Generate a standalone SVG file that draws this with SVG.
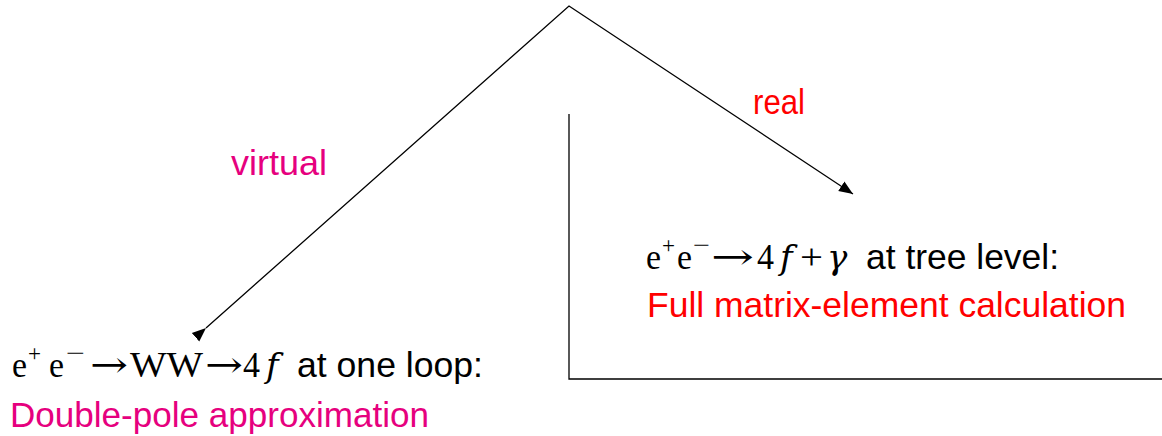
<svg xmlns="http://www.w3.org/2000/svg" width="1162" height="436" viewBox="0 0 1162 436">
<style>
.ln{stroke:#000;stroke-width:1.3;fill:none}
.m{font-family:"Liberation Serif","DejaVu Serif",serif;fill:#000;font-size:35px}
.ar{font-family:"DejaVu Serif","Liberation Serif",serif;fill:#000;font-size:36px}
.it{font-family:"DejaVu Serif","Liberation Serif",serif;font-style:italic;fill:#000;font-size:34px}
.sup{font-size:24px}
.s{font-family:"Liberation Sans","DejaVu Sans",sans-serif;font-size:35px}
.k{fill:#000}
.pink{fill:#E6007E}
.red{fill:#FF0000}
</style>
<defs>
<marker id="ah" viewBox="0 0 10 10" refX="10" refY="5" markerWidth="14" markerHeight="14" markerUnits="userSpaceOnUse" orient="auto">
<path d="M0,1 L10,5 L0,9 Z" fill="#000"/>
</marker>
</defs>
<g id="connectors">
<polyline class="ln" points="206,328 569,6 853,194" marker-start="url(#ah)" marker-end="url(#ah)"/>
<polyline class="ln" points="569,114 569,379 1162,379"/>
</g>
<g id="label-virtual"><text class="s pink" x="231" y="175" textLength="96" lengthAdjust="spacingAndGlyphs">virtual</text></g>
<g id="label-real"><text class="s red" x="753" y="114" textLength="52" lengthAdjust="spacingAndGlyphs">real</text></g>
<g id="node-virtual">
<text class="m" x="12" y="377" textLength="15" lengthAdjust="spacingAndGlyphs">e</text>
<text class="m sup" x="28" y="361" textLength="13" lengthAdjust="spacingAndGlyphs">+</text>
<text class="m" x="49" y="377" textLength="15" lengthAdjust="spacingAndGlyphs">e</text>
<text class="m sup" x="66" y="361" textLength="19" lengthAdjust="spacingAndGlyphs">−</text>
<text class="ar" x="90" y="377" textLength="38" lengthAdjust="spacingAndGlyphs">→</text>
<text class="m" x="130" y="377" textLength="73" lengthAdjust="spacingAndGlyphs">WW</text>
<text class="ar" x="205" y="377" textLength="38" lengthAdjust="spacingAndGlyphs">→</text>
<text class="m" x="243" y="377" textLength="17" lengthAdjust="spacingAndGlyphs">4</text>
<text class="it" x="266" y="377">f</text>
<text class="s k" x="297" y="377" textLength="186" lengthAdjust="spacingAndGlyphs">at one loop:</text>
<text class="s pink" x="10" y="427" textLength="419" lengthAdjust="spacingAndGlyphs">Double-pole approximation</text>
</g>
<g id="node-real">
<text class="m" x="646" y="269" textLength="15" lengthAdjust="spacingAndGlyphs">e</text>
<text class="m sup" x="662" y="253" textLength="13" lengthAdjust="spacingAndGlyphs">+</text>
<text class="m" x="677" y="269" textLength="15" lengthAdjust="spacingAndGlyphs">e</text>
<text class="m sup" x="693" y="253" textLength="17" lengthAdjust="spacingAndGlyphs">−</text>
<text class="ar" x="711" y="269" textLength="43" lengthAdjust="spacingAndGlyphs">→</text>
<text class="m" x="757" y="269" textLength="17" lengthAdjust="spacingAndGlyphs">4</text>
<text class="it" x="780" y="269">f</text>
<text class="m" x="800" y="269" textLength="23" lengthAdjust="spacingAndGlyphs">+</text>
<text class="it" x="827" y="269">γ</text>
<text class="s k" x="866" y="269" textLength="193" lengthAdjust="spacingAndGlyphs">at tree level:</text>
<text class="s red" x="647" y="317" textLength="479" lengthAdjust="spacingAndGlyphs">Full matrix-element calculation</text>
</g>
</svg>
